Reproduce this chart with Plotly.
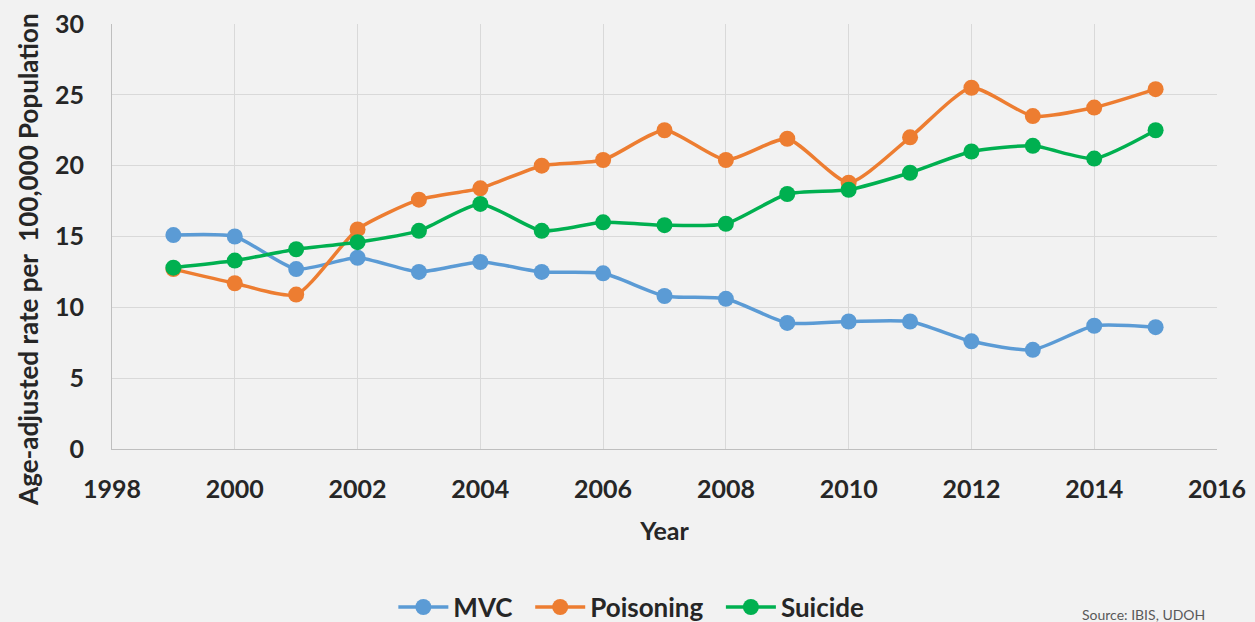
import plotly.graph_objects as go

years = list(range(1999, 2016))
mvc = [15.1, 15.0, 12.7, 13.5, 12.5, 13.2, 12.5, 12.4, 10.8, 10.6, 8.9, 9.0, 9.0, 7.6, 7.0, 8.7, 8.6]
poisoning = [12.7, 11.7, 10.9, 15.5, 17.6, 18.4, 20.0, 20.4, 22.5, 20.4, 21.9, 18.8, 22.0, 25.5, 23.5, 24.1, 25.4]
suicide = [12.8, 13.3, 14.1, 14.6, 15.4, 17.3, 15.4, 16.0, 15.8, 15.9, 18.0, 18.3, 19.5, 21.0, 21.4, 20.5, 22.5]

series = [
    ("MVC\u00a0\u00a0", mvc, "#5B9BD5"),
    ("Poisoning\u00a0\u00a0", poisoning, "#ED7D31"),
    ("Suicide", suicide, "#00B050"),
]

FONT = "Lato"
TEXT = "#262626"

fig = go.Figure()

for name, values, color in series:
    fig.add_trace(
        go.Scatter(
            x=years,
            y=values,
            name=name,
            mode="lines+markers",
            line={"color": color, "width": 3.5, "shape": "spline", "smoothing": 0.6},
            marker={"color": color, "size": 16},
        )
    )

fig.update_layout(
    width=1255,
    height=622,
    paper_bgcolor="#F2F2F2",
    plot_bgcolor="#F2F2F2",
    margin={"l": 112, "r": 38, "t": 24, "b": 173, "autoexpand": False},
    font={"family": FONT, "size": 24, "color": TEXT},
    xaxis={
        "range": [1998, 2016],
        "dtick": 2,
        "tick0": 1998,
        "showgrid": True,
        "gridcolor": "#D9D9D9",
        "gridwidth": 1,
        "showline": True,
        "linecolor": "#BFBFBF",
        "linewidth": 1,
        "zeroline": False,
        "ticks": "outside",
        "ticklen": 18,
        "tickcolor": "rgba(0,0,0,0)",
        "tickfont": {"family": FONT, "size": 25, "color": TEXT, "weight": "bold"},
        "title": {"text": "<b>Year</b>", "font": {"family": FONT, "size": 25, "color": TEXT}, "standoff": 20},
    },
    yaxis={
        "range": [0, 30],
        "dtick": 5,
        "showgrid": True,
        "gridcolor": "#D9D9D9",
        "gridwidth": 1,
        "showline": True,
        "linecolor": "#BFBFBF",
        "linewidth": 1,
        "zeroline": False,
        "ticks": "outside",
        "ticklen": 22,
        "tickcolor": "rgba(0,0,0,0)",
        "tickfont": {"family": FONT, "size": 25, "color": TEXT, "weight": "bold"},
    },
    legend={
        "orientation": "h",
        "x": 0.47,
        "xanchor": "center",
        "y": -0.372,
        "yanchor": "middle",
        "font": {"family": FONT, "size": 26, "color": TEXT, "weight": "bold"},
        "itemwidth": 50,
        "bgcolor": "rgba(0,0,0,0)",
    },
    showlegend=True,
    annotations=[
        {
            # y-axis title, placed by hand because it sits lower than the plot centre
            "text": "<b>Age-adjusted rate per  100,000 Population</b>",
            "xref": "paper",
            "yref": "paper",
            "x": -0.076,
            "y": 0.445,
            "xanchor": "center",
            "yanchor": "middle",
            "textangle": -90,
            "showarrow": False,
            "font": {"family": FONT, "size": 26, "color": TEXT},
        },
        {
            "text": "Source: IBIS, UDOH",
            "xref": "paper",
            "yref": "paper",
            "x": 0.876,
            "y": -0.364,
            "xanchor": "left",
            "yanchor": "top",
            "showarrow": False,
            "font": {"family": FONT, "size": 14, "color": "#595959"},
        },
    ],
)

fig.write_html(
    "out.html",
    config={"displayModeBar": False},
    post_script="document.body.style.margin = '0';",
)
